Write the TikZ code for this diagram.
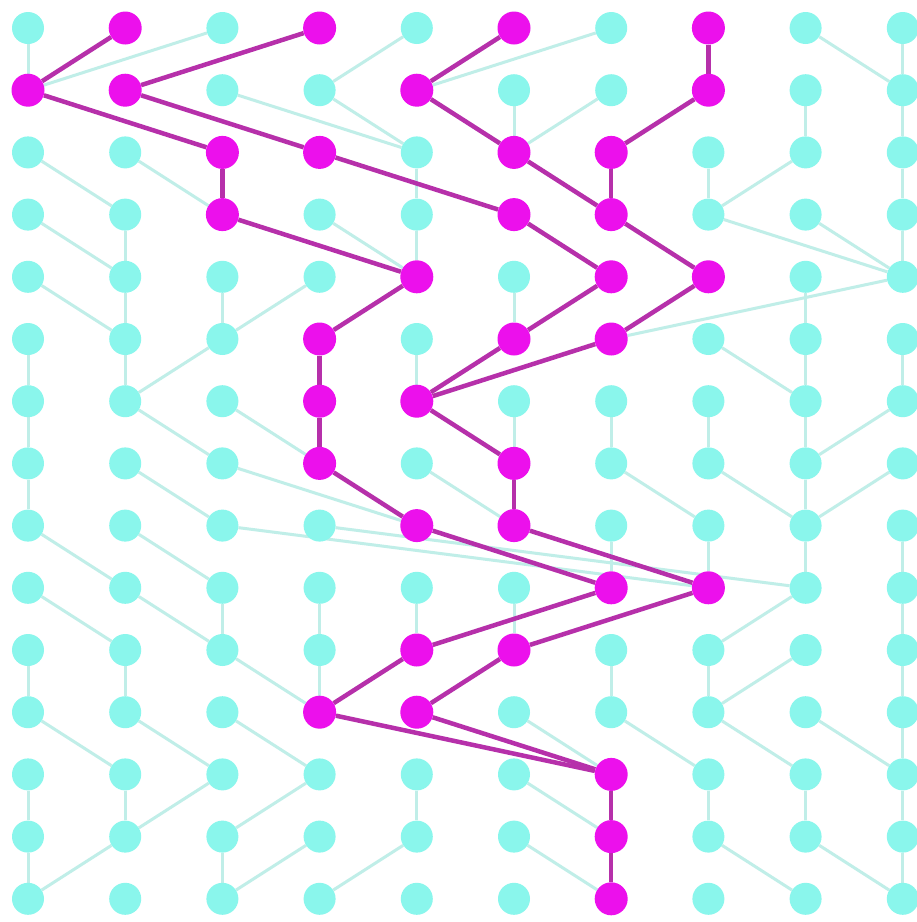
\documentclass[tikz,border=0pt]{standalone}
\definecolor{cy}{RGB}{138,246,236}
\definecolor{cyl}{RGB}{192,238,232}
\definecolor{mg}{RGB}{236,16,236}
\definecolor{mgl}{RGB}{182,48,170}
\pgfdeclarelayer{bg}
\pgfdeclarelayer{mid}
\pgfsetlayers{bg,mid,main}
\begin{document}
\begin{tikzpicture}[x=1pt,y=-1pt,
  cnode/.style={circle,fill=cy,minimum size=32pt,inner sep=0pt},
  mnode/.style={circle,fill=mg,minimum size=33pt,inner sep=0pt},
  cedge/.style={draw=cyl,line width=3pt},
  medge/.style={draw=mgl,line width=4.5pt}]
\useasboundingbox (0,0) rectangle (917,922);
% magenta membership
\foreach \p in {1-0,3-0,5-0,7-0, 0-1,1-1,4-1,7-1, 2-2,3-2,5-2,6-2, 2-3,5-3,6-3,
  4-4,6-4,7-4, 3-5,5-5,6-5, 3-6,4-6, 3-7,5-7, 4-8,5-8, 6-9,7-9, 4-10,5-10,
  3-11,4-11, 6-12, 6-13, 6-14}{\expandafter\gdef\csname mag\p\endcsname{}}
% nodes
\foreach \c in {0,...,9}{\foreach \r in {0,...,14}{
  \ifcsname mag\c-\r\endcsname
    \node[mnode] (n\c-\r) at ({28+97.2*\c},{28+62.2*\r}) {};
  \else
    \node[cnode] (n\c-\r) at ({28+97.2*\c},{28+62.2*\r}) {};
  \fi}}
% background lineage edges
\begin{pgfonlayer}{bg}
\fill[white] (0,0) rectangle (917,922);
\foreach \a/\b in {0-0/0-1, 2-0/0-1, 4-0/3-1, 6-0/4-1, 8-0/9-1, 9-0/9-1,
  2-1/4-2, 3-1/4-2, 5-1/5-2, 6-1/5-2, 8-1/8-2, 9-1/9-2,
  0-2/1-3, 1-2/2-3, 4-2/4-3, 7-2/7-3, 8-2/7-3, 9-2/9-3,
  0-3/1-4, 1-3/1-4, 3-3/4-4, 4-3/4-4, 7-3/9-4, 8-3/9-4, 9-3/9-4,
  0-4/1-5, 1-4/1-5, 2-4/2-5, 3-4/2-5, 5-4/5-5, 8-4/8-5, 9-4/6-5,
  0-5/0-6, 1-5/1-6, 2-5/1-6, 4-5/4-6, 7-5/8-6, 8-5/8-6, 9-5/9-6,
  0-6/0-7, 1-6/2-7, 2-6/3-7, 5-6/5-7, 6-6/6-7, 7-6/7-7, 8-6/8-7, 9-6/8-7,
  0-7/0-8, 1-7/2-8, 2-7/4-8, 4-7/5-8, 6-7/7-8, 7-7/8-8, 8-7/8-8, 9-7/8-8,
  0-8/1-9, 1-8/2-9, 2-8/7-9, 3-8/8-9, 6-8/6-9, 7-8/7-9, 8-8/8-9, 9-8/9-9,
  0-9/1-10, 1-9/2-10, 2-9/2-10, 3-9/3-10, 4-9/4-10, 5-9/5-10, 8-9/7-10, 9-9/9-10,
  0-10/0-11, 1-10/1-11, 2-10/3-11, 3-10/3-11, 6-10/6-11, 7-10/7-11, 8-10/7-11, 9-10/9-11,
  0-11/1-12, 1-11/2-12, 2-11/3-12, 5-11/6-12, 6-11/7-12, 7-11/8-12, 8-11/9-12, 9-11/9-12,
  0-12/0-13, 1-12/1-13, 2-12/1-13, 3-12/2-13, 4-12/4-13, 5-12/6-13, 7-12/7-13, 8-12/8-13, 9-12/9-13,
  0-13/0-14, 1-13/0-14, 2-13/2-14, 3-13/2-14, 4-13/3-14, 5-13/6-14, 7-13/8-14, 8-13/9-14, 9-13/9-14}
  {\draw[cedge] (n\a) -- (n\b);}
\end{pgfonlayer}
% sampled lineages
\begin{pgfonlayer}{mid}
\foreach \a/\b in {1-0/0-1, 3-0/1-1, 5-0/4-1, 7-0/7-1,
  0-1/2-2, 1-1/3-2, 4-1/5-2, 7-1/6-2,
  2-2/2-3, 3-2/5-3, 5-2/6-3, 6-2/6-3,
  2-3/4-4, 5-3/6-4, 6-3/7-4,
  4-4/3-5, 6-4/5-5, 7-4/6-5,
  3-5/3-6, 5-5/4-6, 6-5/4-6,
  3-6/3-7, 4-6/5-7,
  3-7/4-8, 5-7/5-8,
  4-8/6-9, 5-8/7-9,
  6-9/4-10, 7-9/5-10,
  4-10/3-11, 5-10/4-11,
  3-11/6-12, 4-11/6-12,
  6-12/6-13, 6-13/6-14}
  {\draw[medge] (n\a) -- (n\b);}
\end{pgfonlayer}
\end{tikzpicture}
\end{document}
